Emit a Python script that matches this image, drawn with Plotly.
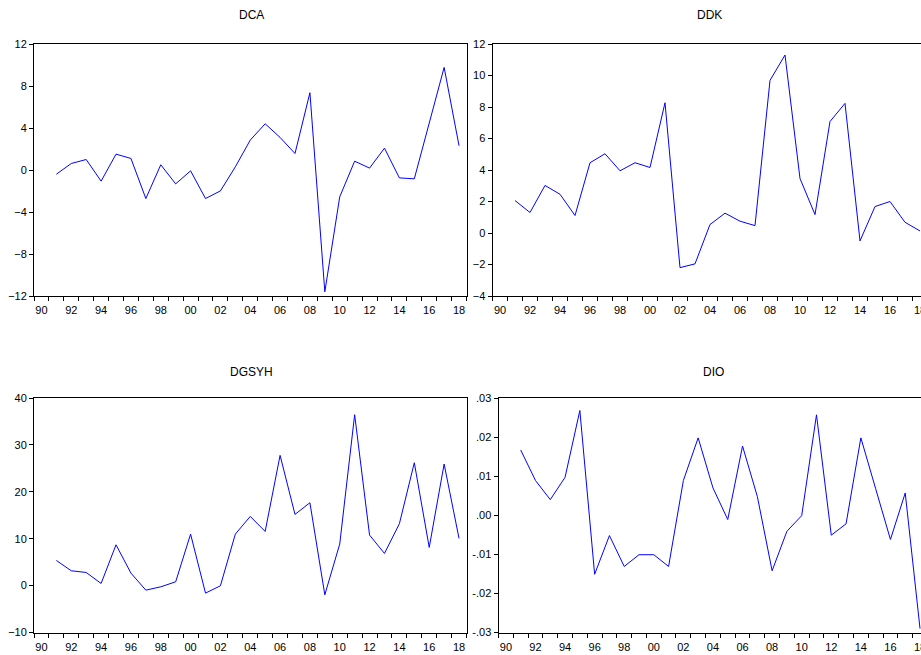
import plotly.graph_objects as go

years = list(range(1991, 2019))

dca = [-0.40, 0.62, 1.00, -1.06, 1.51, 1.10, -2.72, 0.50, -1.32, -0.08,
       -2.72, -1.99, 0.30, 2.85, 4.40, 3.10, 1.57, 7.36, -11.60, -2.56,
       0.84, 0.18, 2.08, -0.75, -0.84, 4.47, 9.77, 2.31]

ddk = [2.06, 1.30, 3.02, 2.46, 1.11, 4.46, 5.03, 3.95, 4.46, 4.16,
       8.27, -2.20, -1.96, 0.54, 1.26, 0.75, 0.47, 9.69, 11.30, 3.46,
       1.17, 7.08, 8.23, -0.50, 1.68, 2.00, 0.68, 0.13]

dgsyh = [5.36, 3.16, 2.80, 0.46, 8.70, 2.66, -0.97, -0.26, 0.81, 10.98,
         -1.60, -0.04, 10.98, 14.75, 11.55, 27.77, 15.18, 17.67, -1.96, 8.85,
         36.44, 10.77, 6.86, 13.19, 26.20, 8.14, 25.92, 10.06]

dio = [0.0167, 0.0089, 0.0040, 0.0097, 0.0268, -0.0151, -0.0052, -0.0131, -0.0101, -0.0101,
       -0.0131, 0.0089, 0.0198, 0.0070, -0.0011, 0.0177, 0.0048, -0.0142, -0.0041, -0.0001,
       0.0257, -0.0051, -0.0022, 0.0198, 0.0068, -0.0062, 0.0057, -0.0290]

titles = ["DCA", "DDK", "DGSYH", "DIO"]

xtick_vals = list(range(1990, 2019, 2))
xtick_text = ["%02d" % (y % 100) for y in xtick_vals]

dca_ticks = [-12, -8, -4, 0, 4, 8, 12]
ddk_ticks = [-4, -2, 0, 2, 4, 6, 8, 10, 12]
dgsyh_ticks = [-10, 0, 10, 20, 30, 40]
dio_ticks = [-0.03, -0.02, -0.01, 0.0, 0.01, 0.02, 0.03]
dio_tick_text = ["-.03", "-.02", "-.01", ".00", ".01", ".02", ".03"]

W, H = 921, 655
FONT = "Liberation Sans, Arial, sans-serif"

fig = go.Figure()
series = [dca, ddk, dgsyh, dio]
for i, s in enumerate(series):
    ax = "" if i == 0 else str(i + 1)
    fig.add_trace(go.Scatter(x=years, y=s, mode="lines",
                             line=dict(color="#0000ff", width=1),
                             xaxis="x" + ax, yaxis="y" + ax,
                             showlegend=False, hoverinfo="skip"))

def px_x(p):
    return p / W

def px_y(p):
    return 1 - p / H

minor_vals = [1989.5 + k for k in range(0, 30)]

def xaxis(domain, anchor, rng):
    return dict(domain=domain, anchor=anchor, range=rng, automargin=False,
                tickmode="array", tickvals=xtick_vals, ticktext=xtick_text,
                ticks="outside", ticklen=4, tickcolor="rgba(0,0,0,0)",
                ticklabeloverflow="allow",
                minor=dict(tickmode="array", tickvals=minor_vals, ticks="outside",
                           ticklen=4, tickcolor="black", tickwidth=1, showgrid=False),
                showline=True, linecolor="black", linewidth=1, mirror=True,
                showgrid=False, zeroline=False,
                tickfont=dict(family=FONT, size=11, color="black"))

def yaxis(domain, anchor, rng, vals, text=None, mirror=True):
    d = dict(domain=domain, anchor=anchor, range=rng, automargin=False,
             tickmode="array", tickvals=vals,
             ticks="outside", ticklen=4, tickcolor="black", tickwidth=1,
             ticklabeloverflow="allow",
             showline=True, linecolor="black", linewidth=1, mirror=mirror,
             showgrid=False, zeroline=False,
             tickfont=dict(family=FONT, size=11, color="black"))
    if text is not None:
        d["ticktext"] = text
    return d

top_y = [px_y(296), px_y(44)]
bot_y = [px_y(632.5), px_y(398)]
left_x = [px_x(34), px_x(466.5)]
ddk_x = [px_x(492.5), 1.0]
dio_x = [px_x(498.5), 1.0]

fig.update_layout(
    template="none",
    width=W, height=H, autosize=False,
    margin=dict(l=0, r=0, t=0, b=0, pad=0, autoexpand=False),
    paper_bgcolor="white", plot_bgcolor="white",
    xaxis=xaxis(left_x, "y", [1989.5, 2018.5]),
    yaxis=yaxis(top_y, "x", [-12, 12], dca_ticks),
    xaxis2=xaxis(ddk_x, "y2", [1989.5, 1989.5 + (921 - 492.5) / 15.0]),
    yaxis2=yaxis(top_y, "x2", [-4, 12], ddk_ticks, mirror=False),
    xaxis3=xaxis(left_x, "y3", [1989.5, 2018.5]),
    yaxis3=yaxis(bot_y, "x3", [-10, 40], dgsyh_ticks),
    xaxis4=xaxis(dio_x, "y4", [1989.5, 1989.5 + (921 - 498.5) / 14.79]),
    yaxis4=yaxis(bot_y, "x4", [-0.03, 0.03], dio_ticks, dio_tick_text, mirror=False),
)

title_pos = [(251.5, 15), (709.5, 15), (251.5, 371.5), (713, 371.5)]
for t, (xp, yp) in zip(titles, title_pos):
    fig.add_annotation(text=t, x=px_x(xp), y=px_y(yp), xref="paper", yref="paper",
                       showarrow=False, xanchor="center", yanchor="middle",
                       font=dict(family=FONT, size=12, color="black"))

fig.write_html("out.html",
               config={"displayModeBar": False, "staticPlot": True},
               post_script="document.body.style.margin='0';document.body.style.overflow='hidden';")
